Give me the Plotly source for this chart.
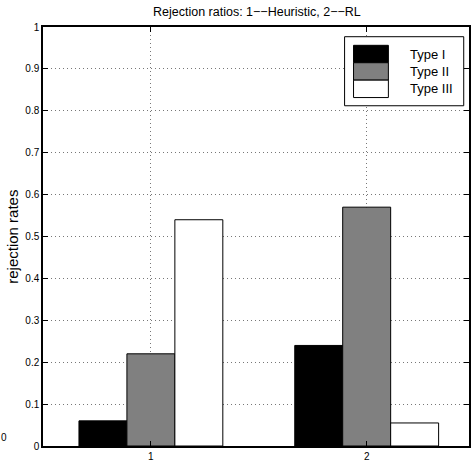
import plotly.graph_objects as go

# Rejection ratios per method (1 = Heuristic, 2 = RL)
methods = [1, 2]
type_names = ["Type I", "Type II", "Type III"]
type1 = [0.06, 0.24]
type2 = [0.22, 0.57]
type3 = [0.54, 0.055]
y_ticks = [0, 0.1, 0.2, 0.3, 0.4, 0.5, 0.6, 0.7, 0.8, 0.9, 1]
y_ticktext = ["0", "0.1", "0.2", "0.3", "0.4", "0.5", "0.6", "0.7", "0.8", "0.9", "1"]
x_ticktext = ["1", "2"]

fills = ["#000000", "#808080", "#ffffff"]
series = [type1, type2, type3]

W, H = 471, 468
L, R, T, B = 43, 0, 27, 22.3
plot_w = W - L - R
plot_h = H - T - B

FONT = "Liberation Sans, Arial, Helvetica, sans-serif"

fig = go.Figure()
for name, vals, col in zip(type_names, series, fills):
    fig.add_trace(go.Bar(
        x=methods, y=vals, name=name,
        marker=dict(color=col, line=dict(color="#000000", width=1)),
        showlegend=False,
    ))


def px_x(px):
    return (px - L) / plot_w


def px_y(py):
    return (H - B - py) / plot_h


shapes = []
annotations = []

# legend box
shapes.append(dict(type="rect", xref="paper", yref="paper",
                   x0=px_x(346), x1=px_x(465.7), y0=px_y(105.7), y1=px_y(36.7),
                   line=dict(color="#000000", width=1), fillcolor="#ffffff", layer="above"))
sw_top = 45.3
sw_h = 17.4
for i, (name, col) in enumerate(zip(type_names, fills)):
    y0 = sw_top + i * sw_h
    shapes.append(dict(type="rect", xref="paper", yref="paper",
                       x0=px_x(355), x1=px_x(390), y0=px_y(y0 + sw_h), y1=px_y(y0),
                       line=dict(color="#000000", width=1), fillcolor=col, layer="above"))
    annotations.append(dict(text=name, xref="paper", yref="paper",
                            x=px_x(410), y=px_y(y0 + sw_h / 2),
                            xanchor="left", yanchor="middle", showarrow=False,
                            font=dict(family=FONT, size=13, color="#000000")))

# title
annotations.append(dict(text="Rejection ratios: 1\u2212\u2212Heuristic, 2\u2212\u2212RL",
                        xref="paper", yref="paper", x=px_x(258), y=px_y(12.5),
                        xanchor="center", yanchor="middle", showarrow=False,
                        font=dict(family=FONT, size=12.5, color="#000000")))
# y-axis label
annotations.append(dict(text="rejection rates", xref="paper", yref="paper",
                        x=px_x(12.5), y=px_y(237), textangle=-90,
                        xanchor="center", yanchor="middle", showarrow=False,
                        font=dict(family=FONT, size=15, color="#000000")))
# small label at the far left edge
annotations.append(dict(text="0", xref="paper", yref="paper",
                        x=px_x(3.5), y=px_y(437), xanchor="center", yanchor="middle",
                        showarrow=False, font=dict(family=FONT, size=10, color="#000000")))

fig.update_layout(
    width=W, height=H,
    margin=dict(l=L, r=R, t=T, b=B, pad=0),
    paper_bgcolor="#ffffff", plot_bgcolor="#ffffff",
    barmode="group", bargap=1 / 3, bargroupgap=0,
    shapes=shapes, annotations=annotations,
    font=dict(family=FONT, size=10, color="#000000"),
)
fig.update_xaxes(
    range=[0.5, 0.5 + plot_w / 216.8],
    tickvals=methods, ticktext=x_ticktext,
    ticks="inside", ticklen=5, tickcolor="#000000", tickwidth=1,
    showline=True, linecolor="#000000", linewidth=1.5, mirror="ticks",
    showgrid=True, gridcolor="#777777", gridwidth=1, griddash="1px,3px",
    zeroline=False, tickfont=dict(family=FONT, size=10),
)
fig.update_yaxes(
    range=[0, 1],
    tickvals=y_ticks, ticktext=y_ticktext,
    ticks="inside", ticklen=5, tickcolor="#000000", tickwidth=1,
    showline=True, linecolor="#000000", linewidth=1.5, mirror="ticks",
    showgrid=True, gridcolor="#777777", gridwidth=1, griddash="1px,3px",
    zeroline=False, tickfont=dict(family=FONT, size=10),
)

fig.write_html("out.html")
